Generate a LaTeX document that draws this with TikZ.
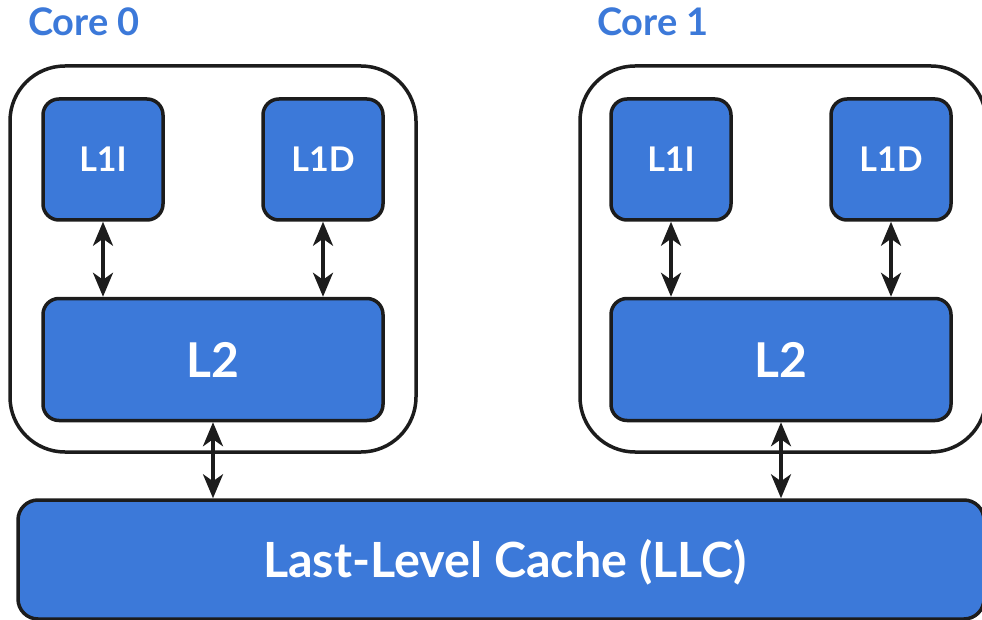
\documentclass[tikz,border=0pt]{standalone}
\usepackage{fontspec}
\setmainfont{Lato}
\usepackage{xcolor}
\usetikzlibrary{arrows.meta}
\definecolor{cacheblue}{HTML}{3C79D9}
\definecolor{edgegray}{HTML}{1C1C1C}
\tikzset{
  corebox/.style = {draw = edgegray, line width = 3.5pt, rounded corners = 55pt, minimum width = 406pt, minimum height = 386pt, inner sep = 0pt},
  cachebox/.style = {draw = edgegray, fill = cacheblue, line width = 3.5pt, rounded corners = 16pt, inner sep = 0pt, text = white, font = \bfseries},
  smallbox/.style = {cachebox, minimum width = 120pt, minimum height = 121pt, font = \fontsize{34}{40}\selectfont\bfseries},
  corelabel/.style = {text = cacheblue, font = \fontsize{38}{44}\selectfont\bfseries, inner sep = 0pt},
  link/.style = {draw = edgegray, line width = 3.5pt, {Stealth[length=24pt, width=20pt, inset=7pt]}-{Stealth[length=24pt, width=20pt, inset=7pt]}}
}
\begin{document}
\begin{tikzpicture}[x = 1pt, y = -1pt]
  \useasboundingbox (0,0) rectangle (982,620);

  % core labels
  \node at (84,22) [corelabel] (lbl0) {Core 0};
  \node at (653,22) [corelabel] (lbl1) {Core 1};

  % core 0
  \node at (213,259) [corebox] (core0) {};
  \node at (103,159.5) [smallbox] (l1i0) {L1I};
  \node at (323,159.5) [smallbox] (l1d0) {L1D};
  \node at (213,359.5) [cachebox, minimum width = 340pt, minimum height = 122pt, font = \fontsize{48}{54}\selectfont\bfseries] (l20) {L2};

  % core 1
  \node at (783,259) [corebox] (core1) {};
  \node at (671,159.5) [smallbox] (l1i1) {L1I};
  \node at (891,159.5) [smallbox] (l1d1) {L1D};
  \node at (781,359.5) [cachebox, minimum width = 340pt, minimum height = 122pt, font = \fontsize{48}{54}\selectfont\bfseries] (l21) {L2};

  % shared cache
  \node at (501,559.5) [cachebox, rounded corners = 20pt, minimum width = 966pt, minimum height = 119pt] (llc) {};
  \node at (505,562) [text = white, font = \fontsize{48.5}{54}\selectfont\bfseries] (llctext) {Last-Level Cache (LLC)};

  % links
  \draw [link] (l1i0.south) -- (l1i0.south |- l20.north);
  \draw [link] (l1d0.south) -- (l1d0.south |- l20.north);
  \draw [link] (l1i1.south) -- (l1i1.south |- l21.north);
  \draw [link] (l1d1.south) -- (l1d1.south |- l21.north);
  \draw [link] (l20.south) -- (l20.south |- llc.north);
  \draw [link] (l21.south) -- (l21.south |- llc.north);
\end{tikzpicture}
\end{document}
